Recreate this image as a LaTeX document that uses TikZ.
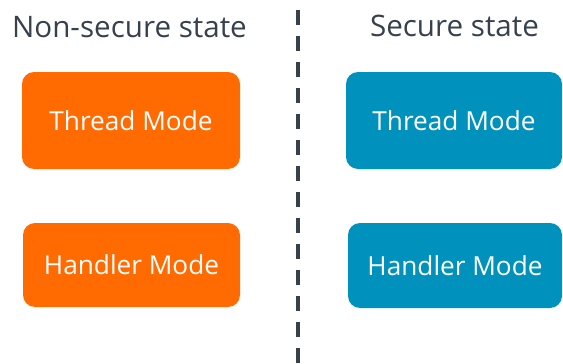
\documentclass[tikz,border=0pt]{standalone}
\usepackage{fontspec}
\setmainfont{Open Sans}
\definecolor{nsorange}{HTML}{FF6B00}
\definecolor{sblue}{HTML}{0092BD}
\definecolor{slate}{HTML}{36414C}
\begin{document}
\begin{tikzpicture}[x=1pt,y=-1pt,
  modebox/.style={rounded corners=12pt, inner sep=0pt, text=white,
    font=\fontsize{26.2}{30}\selectfont},
  statetitle/.style={anchor=base, text=slate, inner sep=0pt,
    font=\fontsize{29.6}{34}\selectfont},
  divider/.style={draw=slate, line width=4pt, dash pattern=on 15pt off 11pt}]
\useasboundingbox (0,0) rectangle (563,364);

% column headings
\node[statetitle] (nstitle) at (129.5,37) {Non-secure state};
\node[statetitle] (stitle) at (454.5,36) {Secure state};

% non-secure modes
\node[modebox, fill=nsorange, minimum width=218pt, minimum height=97pt]
  (nsthread) at (131,120.5) {Thread Mode};
\node[modebox, fill=nsorange, minimum width=217pt, minimum height=84pt]
  (nshandler) at (131.5,265) {Handler Mode};

% secure modes
\node[modebox, fill=sblue, minimum width=216pt, minimum height=97pt]
  (sthread) at (454,120.5) {Thread Mode};
\node[modebox, fill=sblue, minimum width=214pt, minimum height=85pt]
  (shandler) at (455,265.5) {Handler Mode};

% dashed divider between the two states
\coordinate (divtop) at (298,10);
\coordinate (divbot) at (298,364);
\draw[divider] (divtop) -- (divbot);
\end{tikzpicture}
\end{document}
